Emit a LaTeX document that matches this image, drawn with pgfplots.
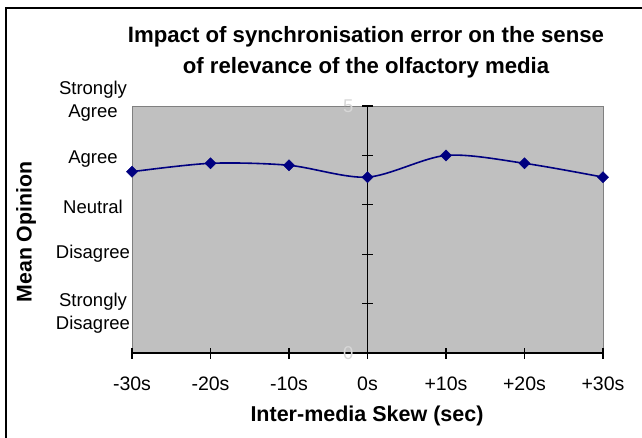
\documentclass[border=0pt]{standalone}
\usepackage{fontspec}
\setmainfont{Liberation Sans}
\usepackage{pgfplots}
\pgfplotsset{compat=1.18}
\definecolor{plotgray}{RGB}{192,192,192}
\definecolor{framegray}{RGB}{128,128,128}
\definecolor{navyline}{RGB}{0,0,128}
\definecolor{faint}{RGB}{215,215,215}
\begin{document}
\begin{tikzpicture}[x=1pt,y=1pt]
\begin{scope}
\clip (0,0) rectangle (642,437);
\draw[line width=2pt] (6,429) rectangle (700,-50);
\end{scope}
\begin{axis}[
  at={(132pt,84pt)}, anchor=south west,
  scale only axis, width=471pt, height=247pt,
  xmin=-30, xmax=30, ymin=0, ymax=5,
  axis x line*=bottom, axis y line*=middle,
  axis line style={-, black, line width=1.2pt},
  every inner y axis line/.append style={-},
  every inner x axis line/.append style={-},
  axis background/.style={fill=plotgray, draw=framegray, line width=1pt},
  xtick={-30,-20,...,30},
  xticklabels={-30s,-20s,-10s,0s,+10s,+20s,+30s},
  ytick={0,1,2,3,4,5},
  yticklabels={0,{},{},{},{},5},
  tick align=center, major tick length=11pt,
  tick style={black, line width=1.2pt},
  hide obscured x ticks=false, hide obscured y ticks=false,
  xticklabel style={font=\fontsize{19.5}{21}\selectfont, yshift=-15pt},
  yticklabel style={font=\fontsize{18.5}{20}\selectfont, color=faint, xshift=-5pt},
  /pgf/number format/assume math mode=true,
  clip=false,
]
\addplot[navyline, line width=1.6pt, smooth, tension=0.5, mark=square*, mark size=3.9pt,
  mark options={rotate=45, fill=navyline, draw=navyline, line width=0.5pt}]
  coordinates {(-30,3.67) (-20,3.84) (-10,3.80) (0,3.56) (10,4.00) (20,3.84) (30,3.56)};
\end{axis}
\node[font=\bfseries\fontsize{22.2}{31}\selectfont, align=center] at (366,384.5)
  {Impact of synchronisation error on the sense\\of relevance of the olfactory media};
\node[font=\bfseries\fontsize{21.3}{23}\selectfont, rotate=90] at (26,205) {Mean Opinion};
\node[font=\bfseries\fontsize{21.5}{23}\selectfont] at (367,21) {Inter-media Skew (sec)};
\begin{scope}[every node/.style={font=\fontsize{18.5}{23}\selectfont, align=center}]
\node at (93,336.2) {Strongly\\Agree};
\node at (93,278) {Agree};
\node at (93,230.3) {Neutral};
\node at (93,183) {Disagree};
\node at (93,123.6) {Strongly\\Disagree};
\end{scope}
\pgfresetboundingbox
\useasboundingbox (0,0) rectangle (642,437);
\end{tikzpicture}
\end{document}
